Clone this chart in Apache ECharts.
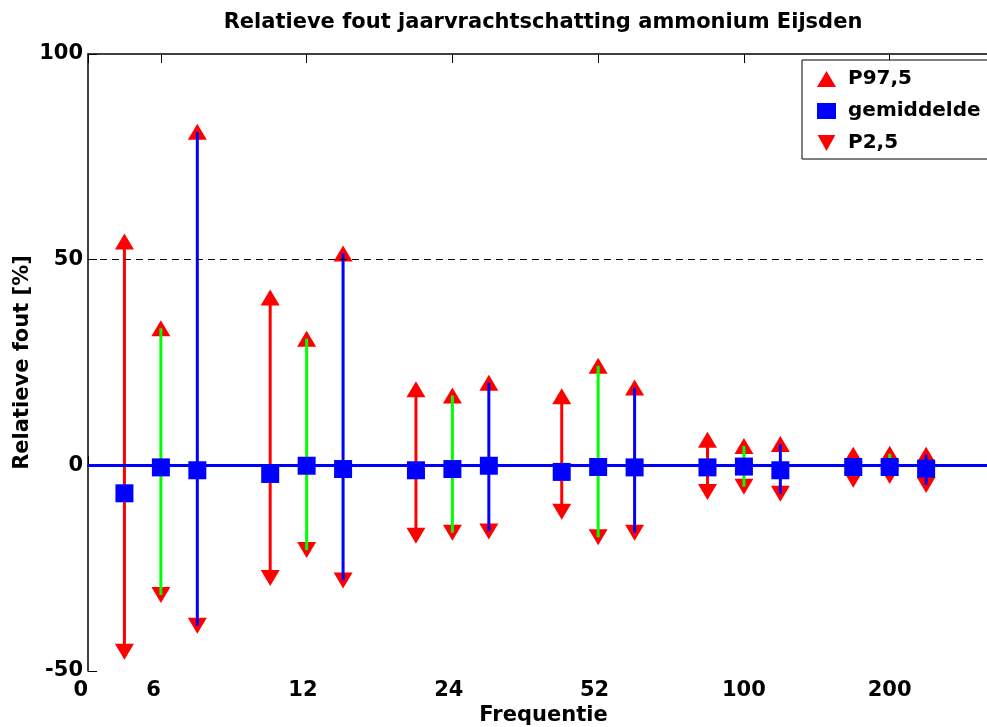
<!DOCTYPE html>
<html>
<head>
<meta charset="utf-8">
<script src="https://cdn.jsdelivr.net/npm/echarts@6/dist/echarts.min.js"></script>
<style>
  html, body { margin: 0; padding: 0; background: #fff; }
  #chart { width: 987px; height: 727px; }
</style>
</head>
<body>
<div id="chart"></div>
<script>
// positions on the x axis: three methods per sampling frequency
const xPos = [1, 2, 3, 5, 6, 7, 9, 10, 11, 13, 14, 15, 17, 18, 19, 21, 22, 23];
const p975 = [54.4, 33.3, 81.1, 40.8, 30.8, 51.5, 18.5, 17.0, 20.1, 16.8, 24.2, 18.9, 6.2, 4.7, 5.2, 2.6, 2.8, 2.6];
const gemiddelde = [-6.8, -0.5, -1.2, -2.1, -0.1, -0.9, -1.2, -0.9, -0.1, -1.6, -0.4, -0.5, -0.5, -0.3, -1.2, -0.4, -0.4, -0.8];
const p25 = [-45.3, -31.5, -39.0, -27.4, -20.6, -28.0, -17.1, -16.4, -16.1, -11.3, -17.5, -16.4, -6.5, -5.2, -6.9, -3.5, -2.6, -4.8];

const tickValues = [0, 2, 6, 10, 14, 18, 22];
const tickLabels = ["0  ", "6  ", "12 ", "24 ", "52 ", "100", "200"];
const rangeColors = ["#ff0000", "#00ff00", "#0000ff"];

const FONT = "DejaVu Sans";
const downTriangle = "path://M0,0 L10,0 L5,9 Z";

const chart = echarts.init(document.getElementById("chart"));

const labelFor = (v) => {
  const i = tickValues.indexOf(v);
  return i >= 0 ? tickLabels[i] : "";
};

const option = {
  animation: false,
  title: {
    text: "Relatieve fout jaarvrachtschatting ammonium Eijsden",
    left: 543,
    top: 12,
    textAlign: "center",
    padding: 0,
    textStyle: { fontFamily: FONT, fontSize: 21, fontWeight: "bold", color: "#000" },
  },
  legend: {
    data: ["P97,5", "gemiddelde", "P2,5"],
    orient: "vertical",
    left: 802,
    top: 60,
    padding: [7, 40, 4, 15],
    itemGap: 8,
    itemWidth: 19,
    itemHeight: 16,
    backgroundColor: "#fff",
    borderColor: "#000",
    borderWidth: 1,
    borderRadius: 0,
    textStyle: {
      fontFamily: FONT,
      fontSize: 20,
      fontWeight: "bold",
      color: "#000",
      lineHeight: 24,
      padding: [0, 0, 0, 7],
    },
  },
  grid: { left: 88, top: 54, width: 911, height: 617, outerBoundsMode: "none", containLabel: false },
  xAxis: [
    {
      type: "value",
      min: 0,
      max: 25,
      name: "Frequentie",
      nameLocation: "middle",
      nameGap: 34,
      nameMoveOverlap: false,
      nameTextStyle: { fontFamily: FONT, fontSize: 21, fontWeight: "bold", color: "#000" },
      axisLine: { lineStyle: { color: "#000", width: 1.5 } },
      axisTick: { inside: true, length: 9, customValues: tickValues, lineStyle: { color: "#000" } },
      axisLabel: {
        customValues: tickValues,
        formatter: labelFor,
        margin: 9,
        fontFamily: FONT,
        fontSize: 21,
        fontWeight: "bold",
        color: "#000",
      },
      splitLine: { show: false },
    },
    {
      type: "value",
      position: "top",
      min: 0,
      max: 25,
      axisLine: { onZero: false, lineStyle: { color: "#000", width: 1.5 } },
      axisTick: { inside: true, length: 9, customValues: tickValues, lineStyle: { color: "#000" } },
      axisLabel: { show: false },
      splitLine: { show: false },
    },
  ],
  yAxis: {
    type: "value",
    min: -50,
    max: 100,
    interval: 50,
    name: "Relatieve fout [%]",
    nameLocation: "middle",
    nameGap: 55,
    nameMoveOverlap: false,
    nameTextStyle: { fontFamily: FONT, fontSize: 21, fontWeight: "bold", color: "#000" },
    axisLine: { show: true, lineStyle: { color: "#000", width: 1.5 } },
    axisTick: { show: true, inside: true, length: 9, lineStyle: { color: "#000" } },
    axisLabel: { margin: 5, fontFamily: FONT, fontSize: 21, fontWeight: "bold", color: "#000" },
    splitLine: { show: false },
  },
  series: [
    {
      name: "refs",
      type: "line",
      data: [],
      z: 2,
      markLine: {
        silent: true,
        symbol: ["none", "none"],
        label: { show: false },
        data: [
          { yAxis: 50, lineStyle: { color: "#000", width: 1, type: [7, 5] } },
          { yAxis: 0, lineStyle: { color: "#0000ff", width: 3, type: "solid" } },
        ],
      },
    },
    {
      name: "P97,5",
      type: "scatter",
      symbol: "triangle",
      symbolSize: [19, 16],
      itemStyle: { color: "#ff0000", opacity: 1 },
      z: 3,
      data: xPos.map((x, i) => [x, p975[i]]),
    },
    {
      name: "P2,5",
      type: "scatter",
      symbol: downTriangle,
      symbolSize: [19, 16],
      symbolKeepAspect: false,
      itemStyle: { color: "#ff0000", opacity: 1 },
      z: 3,
      data: xPos.map((x, i) => [x, p25[i]]),
    },
    {
      name: "range",
      type: "custom",
      z: 4,
      data: xPos.map((x, i) => [x, p25[i], p975[i], i % 3]),
      renderItem: (params, api) => {
        const lo = api.coord([api.value(0), api.value(1)]);
        const hi = api.coord([api.value(0), api.value(2)]);
        return {
          type: "line",
          shape: { x1: lo[0], y1: lo[1], x2: hi[0], y2: hi[1] },
          style: { stroke: rangeColors[api.value(3)], lineWidth: 3 },
        };
      },
    },
    {
      name: "gemiddelde",
      type: "scatter",
      symbol: "rect",
      symbolSize: 18,
      itemStyle: { color: "#0000ff", opacity: 1 },
      z: 5,
      data: xPos.map((x, i) => [x, gemiddelde[i]]),
    },
  ],
};

chart.setOption(option);
</script>
</body>
</html>
